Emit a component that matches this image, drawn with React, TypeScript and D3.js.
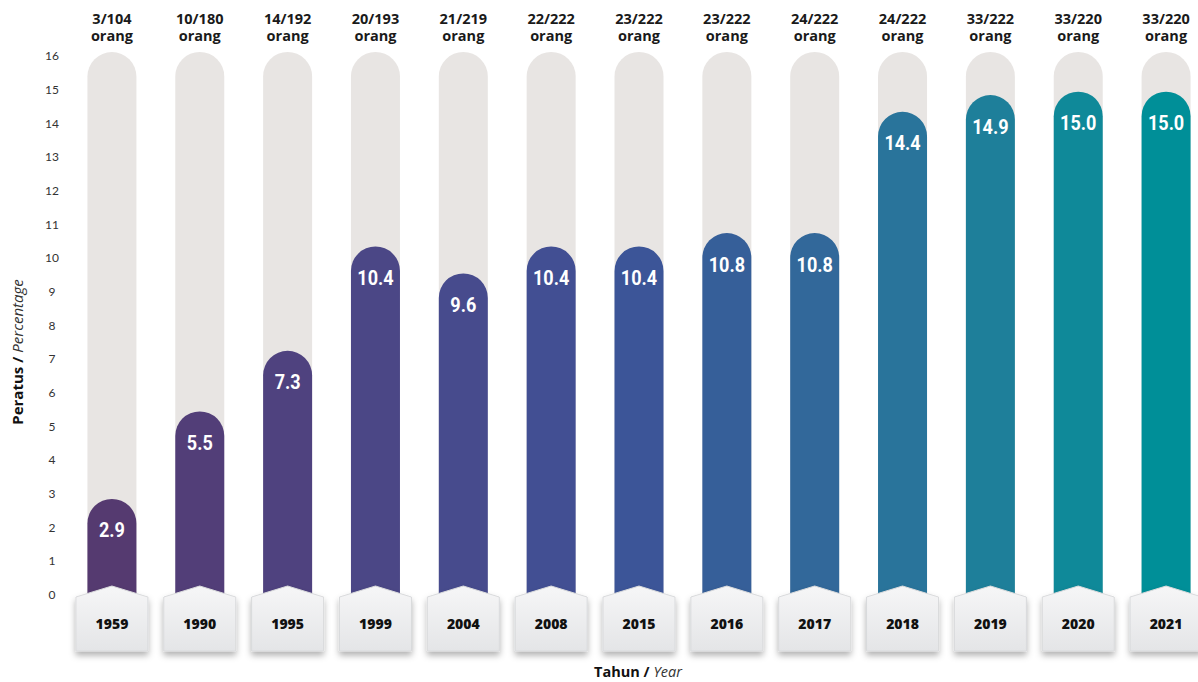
import React from "react";
import * as d3 from "d3";

const years = ["1959", "1990", "1995", "1999", "2004", "2008", "2015", "2016", "2017", "2018", "2019", "2020", "2021"];
const values = [2.9, 5.5, 7.3, 10.4, 9.6, 10.4, 10.4, 10.8, 10.8, 14.4, 14.9, 15.0, 15.0];
const counts = ["3/104", "10/180", "14/192", "20/193", "21/219", "22/222", "23/222", "23/222", "24/222", "24/222", "33/222", "33/220", "33/220"];
const yTicks = [0, 1, 2, 3, 4, 5, 6, 7, 8, 9, 10, 11, 12, 13, 14, 15, 16];
const barColors = ["#553a70", "#523e78", "#4f427f", "#4b4786", "#474b8d", "#424f93", "#3c5598", "#365f99", "#32689a", "#29749b", "#1e7f9a", "#0f8999", "#008f98"];

const W = 1198;
const H = 682;

export default function App() {
  const x = d3.scalePoint<string>().domain(years).range([68, 1210]).padding(0.5);
  const y = d3.scaleLinear().domain([0, 16]).range([596.5, 58]);
  const bw = 49;
  const r = bw / 2;
  const base = 600;

  const capPath = (cx: number, top: number) => {
    const l = cx - r;
    const rr = cx + r;
    return `M${l},${base} L${l},${top + r} A${r},${r} 0 0 1 ${rr},${top + r} L${rr},${base} Z`;
  };

  const boxPath = (cx: number) => {
    const hw = 36;
    const peak = 586;
    const sh = 597;
    const bot = 651;
    return `M${cx},${peak} L${cx + hw},${sh} L${cx + hw},${bot} L${cx - hw},${bot} L${cx - hw},${sh} Z`;
  };

  return (
    <svg width={W} height={H} style={{ position: "absolute", left: 0, top: 0 }} fontFamily="'Open Sans', sans-serif">
      <defs>
        <linearGradient id="boxg" x1="0" y1="0" x2="0" y2="1">
          <stop offset="0%" stopColor="#f6f6f7" />
          <stop offset="100%" stopColor="#e4e5e7" />
        </linearGradient>
        <filter id="sh" x="-30%" y="-30%" width="160%" height="170%">
          <feDropShadow dx="0" dy="4" stdDeviation="3" floodColor="#000" floodOpacity="0.3" />
        </filter>
      </defs>
      <rect width={W} height={H} fill="#fff" />
      {yTicks.map((t) => (
        <text key={t} x={52} y={y(t)} dy="0.2em" textAnchor="middle" fontSize={12} fill="#333" fontFamily="'Lato', sans-serif">
          {t}
        </text>
      ))}
      <text transform={`translate(23,352) rotate(-90)`} textAnchor="middle" fontSize={15} fill="#111">
        <tspan fontWeight="bold">Peratus /</tspan>
        <tspan fontStyle="italic" fill="#333"> Percentage</tspan>
      </text>
      {years.map((yr, i) => {
        const cx = x(yr) as number;
        return (
          <g key={yr}>
            <path d={capPath(cx, y(16) - 6)} fill="#e8e5e3" />
            <path d={capPath(cx, y(values[i]))} fill={barColors[i]} />
            <text transform={`translate(${cx},${y(values[i]) + 31}) scale(0.86,1)`} dy="0.36em" textAnchor="middle" fill="#fff" fontSize={21} fontWeight="bold" fontFamily="Roboto, sans-serif">
              {values[i].toFixed(1)}
            </text>
            <text x={cx} y={19} dy="0.35em" textAnchor="middle" fontSize={14.5} fontWeight="bold" fill="#1a1a1a">
              {counts[i]}
            </text>
            <text x={cx} y={36} dy="0.35em" textAnchor="middle" fontSize={14.5} fontWeight="bold" fill="#1a1a1a">
              orang
            </text>
            <path d={boxPath(cx)} fill="url(#boxg)" stroke="#d9dadc" strokeWidth={1} filter="url(#sh)" />
            <text x={cx} y={624} dy="0.35em" textAnchor="middle" fontSize={14} fontWeight={800} fill="#111">
              {yr}
            </text>
          </g>
        );
      })}
      <text x={638} y={677} textAnchor="middle" fontSize={14.5} fill="#111">
        <tspan fontWeight="bold">Tahun /</tspan>
        <tspan fontStyle="italic" fill="#333"> Year</tspan>
      </text>
    </svg>
  );
}
